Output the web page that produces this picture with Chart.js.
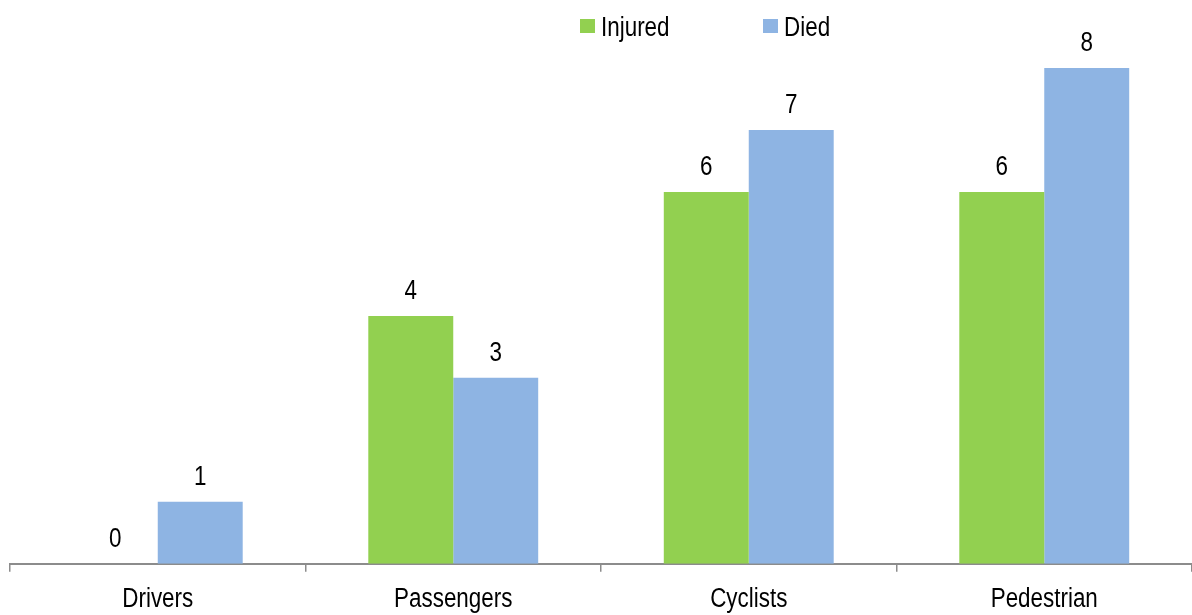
<!DOCTYPE html>
<html>
<head>
<meta charset="utf-8">
<script src="https://cdn.jsdelivr.net/npm/chart.js@4/dist/chart.umd.min.js"></script>
<style>
  html, body { margin: 0; padding: 0; background: #ffffff; }
  #wrap { width: 1192px; height: 615px; position: relative; }
</style>
</head>
<body>
<div id="wrap"><canvas id="c"></canvas></div>
<script>
const categories = ['Drivers', 'Passengers', 'Cyclists', 'Pedestrian'];
const injured = [0, 4, 6, 6];
const died = [1, 3, 7, 8];
const seriesNames = ['Injured', 'Died'];
const seriesColors = ['#92D050', '#8EB4E3'];

const FONT = "'Liberation Sans', Arial, sans-serif";
const FS = 27;
const SX = 0.83; // narrow (condensed) look

function narrowText(ctx, text, x, y, align) {
  ctx.save();
  ctx.translate(x, y);
  ctx.scale(SX, 1);
  ctx.textAlign = align;
  ctx.fillText(text, 0, 0);
  ctx.restore();
}

const valueLabels = {
  id: 'valueLabels',
  afterDatasetsDraw(chart) {
    const ctx = chart.ctx;
    ctx.save();
    ctx.font = FS + 'px ' + FONT;
    ctx.fillStyle = '#000';
    ctx.textBaseline = 'alphabetic';
    chart.data.datasets.forEach((ds, i) => {
      const meta = chart.getDatasetMeta(i);
      meta.data.forEach((bar, j) => {
        narrowText(ctx, String(ds.data[j]), bar.x, bar.y - 17, 'center');
      });
    });
    ctx.restore();
  }
};

const xLabels = {
  id: 'xLabels',
  afterDraw(chart) {
    const ctx = chart.ctx;
    const xs = chart.scales.x;
    ctx.save();
    ctx.font = FS + 'px ' + FONT;
    ctx.fillStyle = '#000';
    ctx.textBaseline = 'alphabetic';
    chart.data.labels.forEach((lab, i) => {
      narrowText(ctx, lab, xs.getPixelForValue(i), 607, 'center');
    });
    ctx.restore();
  }
};

const customLegend = {
  id: 'customLegend',
  afterDraw(chart) {
    const ctx = chart.ctx;
    ctx.save();
    ctx.font = FS + 'px ' + FONT;
    ctx.textBaseline = 'alphabetic';
    const starts = [580, 763];
    seriesNames.forEach((name, i) => {
      ctx.fillStyle = seriesColors[i];
      ctx.fillRect(starts[i], 19, 15, 14);
      ctx.fillStyle = '#000';
      narrowText(ctx, name, starts[i] + 21, 36, 'left');
    });
    ctx.restore();
  }
};

new Chart(document.getElementById('c'), {
  type: 'bar',
  data: {
    labels: categories,
    datasets: [
      { label: seriesNames[0], data: injured, backgroundColor: seriesColors[0], borderWidth: 0 },
      { label: seriesNames[1], data: died, backgroundColor: seriesColors[1], borderWidth: 0 }
    ]
  },
  plugins: [valueLabels, xLabels, customLegend],
  options: {
    responsive: true,
    maintainAspectRatio: false,
    animation: false,
    layout: { padding: { top: 6, left: 10, right: -3, bottom: 0 } },
    plugins: {
      legend: { display: false },
      tooltip: { enabled: false }
    },
    datasets: { bar: { categoryPercentage: 0.575, barPercentage: 1.0 } },
    scales: {
      x: {
        grid: {
          display: true, offset: true, drawOnChartArea: false, drawTicks: true,
          tickLength: 8, lineWidth: 1.5, color: '#8c8c8c'
        },
        border: { display: true, color: '#8c8c8c', width: 2 },
        ticks: { color: 'rgba(0,0,0,0)', font: { family: FONT, size: 26 }, padding: 6, maxRotation: 0 }
      },
      y: {
        display: false,
        min: 0,
        max: 9
      }
    }
  }
});
</script>
</body>
</html>
